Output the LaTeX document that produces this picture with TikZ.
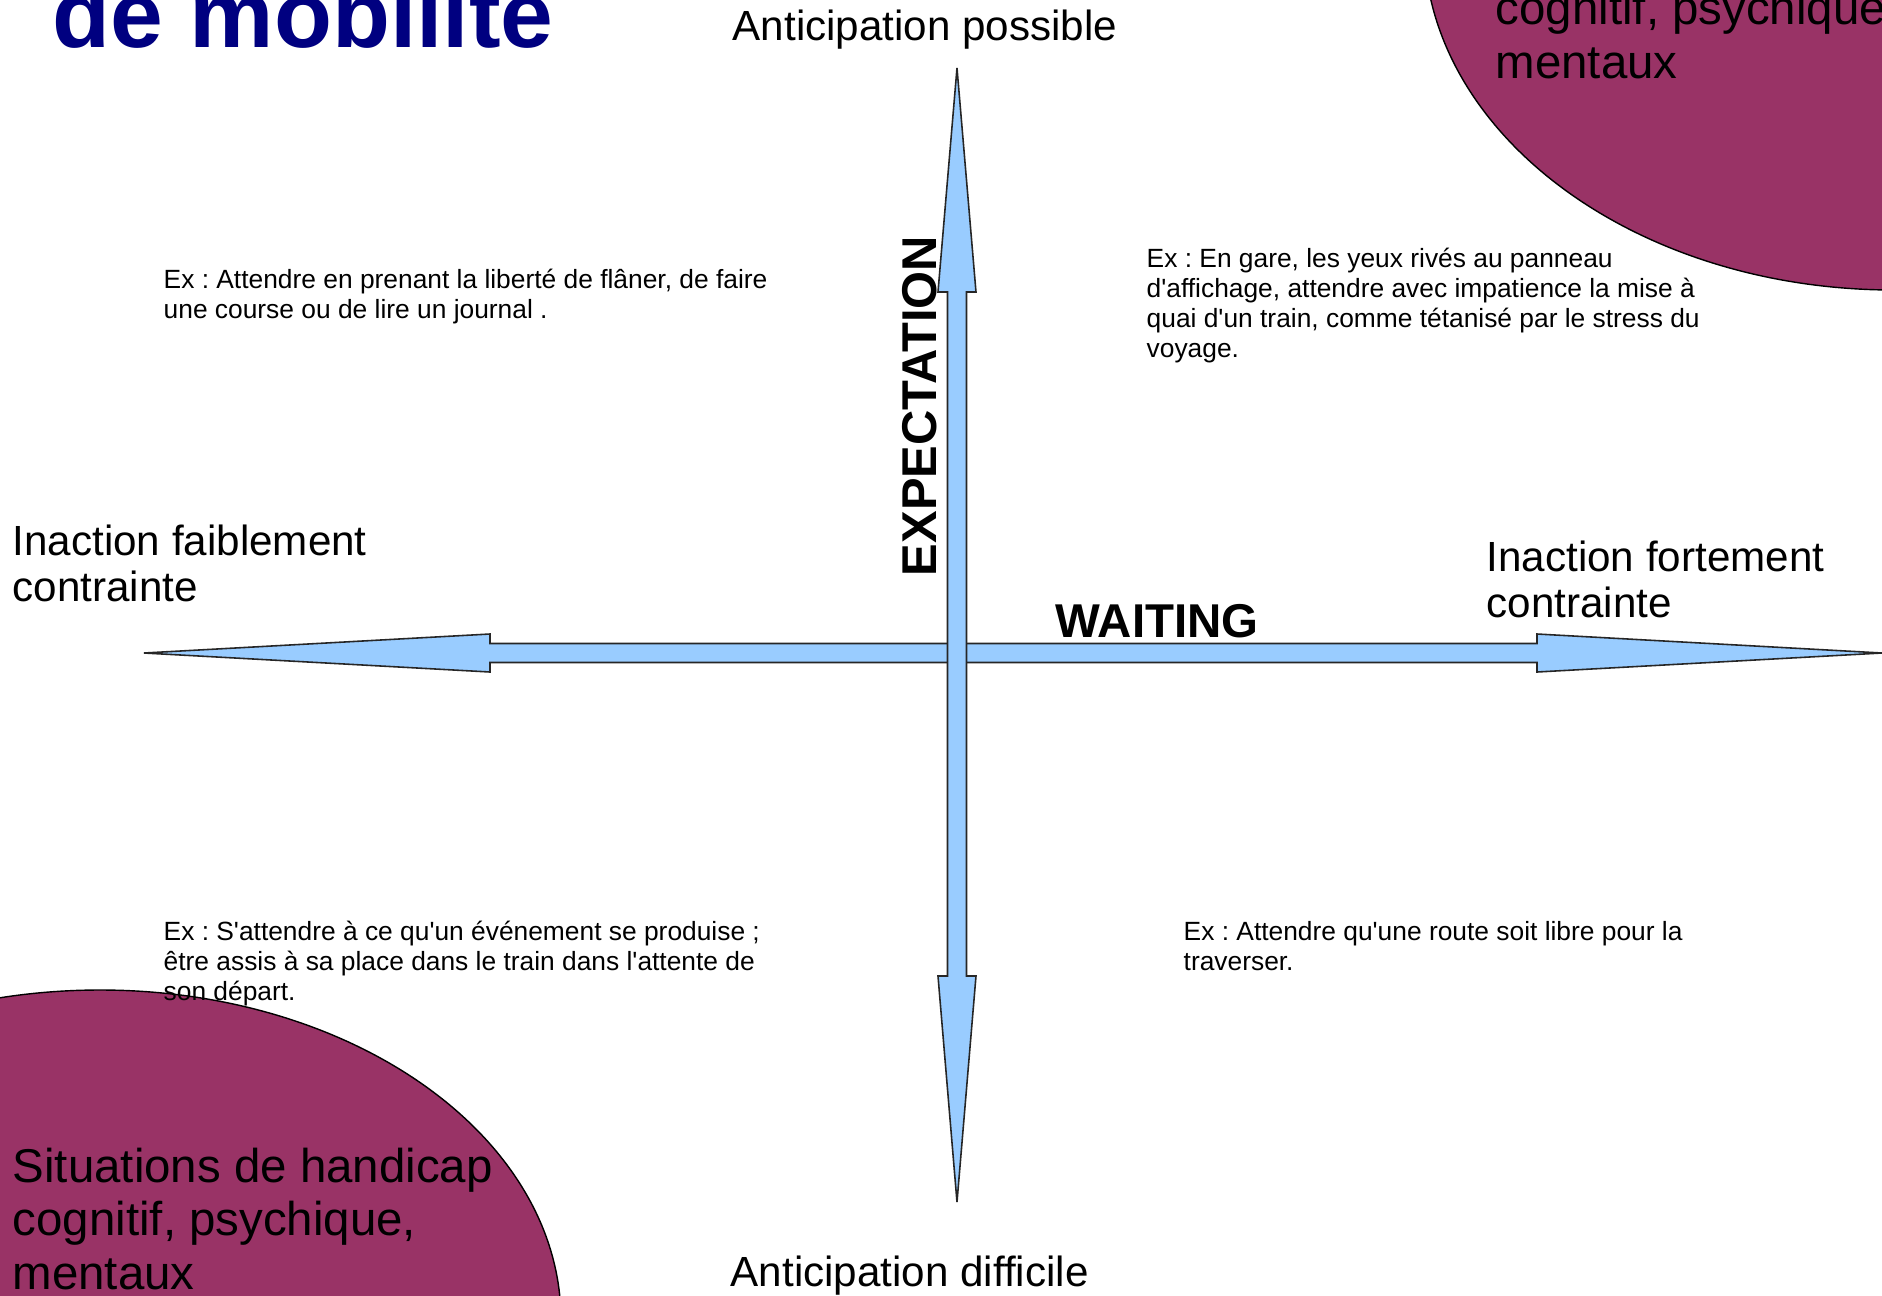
\documentclass[tikz,border=0pt]{standalone}
\usepackage{fontspec}
\setmainfont{Liberation Sans}
\usepackage{tikz}
\usetikzlibrary{positioning, calc}

\definecolor{axisblue}{RGB}{153,204,255}
\definecolor{zonepurple}{RGB}{153,51,102}
\definecolor{titlenavy}{RGB}{0,0,128}

% straight apostrophe, as typed on the slide
\newcommand{\ap}{\textquotesingle}
\frenchspacing

\begin{document}
\begin{tikzpicture}[
    axis/.style={fill=axisblue, draw=black!85, line width=0.45pt, line join=miter},
    zone/.style={fill=zonepurple, draw=black, line width=0.4pt},
    zonetext/.style={anchor=base west, align=left, inner sep=0pt, font=\fontsize{13.5}{15.1}\selectfont},
    pole/.style={anchor=base west, align=left, inner sep=0pt, font=\fontsize{12}{12.9}\selectfont},
    axislabel/.style={inner sep=0pt, font=\fontsize{13.5}{15}\selectfont\bfseries},
    example/.style={anchor=base west, align=left, inner sep=0pt, font=\fontsize{7.5}{8.5}\selectfont}
]

    % Frame of the slide
    \useasboundingbox (-9.57,-6.42) rectangle (9.25,6.53);
    \clip (-9.57,-6.42) rectangle (9.25,6.53);
    \fill[white] (-9.57,-6.42) rectangle (9.25,6.53);

    % Handicap zones in the corners
    \draw[zone] (9.37,7.13) ellipse [x radius=4.70, y radius=3.50];
    \draw[zone] (-8.57,-6.67) ellipse [x radius=4.61, y radius=3.30];

    % (multi-line nodes sit on the baseline of their last line)
    \node (zoneNE) at (5.38,5.75) [zonetext] {cognitif, psychique,\\mentaux};
    \node (zoneSW) at (-9.45,-6.36) [zonetext] {Situations de handicap\\cognitif, psychique,\\mentaux};

    % Title, cut by the top edge
    \node (titre) at (-9.05,6.06) [anchor=base west, inner sep=0pt, text=titlenavy, font=\fontsize{27}{32}\selectfont\bfseries] {de mobilité};

    % Horizontal axis: WAITING
    \coordinate (o) at (0,0);
    \draw[axis] (-8.13,0) -- (-4.67,0.19) -- (-4.67,0.095) -- (5.80,0.095) -- (5.80,0.19)
        -- (9.25,0) -- (5.80,-0.19) -- (5.80,-0.095) -- (-4.67,-0.095) -- (-4.67,-0.19) -- cycle;

    % Vertical axis: EXPECTATION
    \draw[axis] (0,5.85) -- (0.19,3.61) -- (0.095,3.61) -- (0.095,-3.23) -- (0.19,-3.23)
        -- (0,-5.49) -- (-0.19,-3.23) -- (-0.095,-3.23) -- (-0.095,3.61) -- (-0.19,3.61) -- cycle;

    % Axis names
    \node (waiting) at (0.98,0.16) [axislabel, anchor=base west] {WAITING};
    \node (expect) at (-0.20,2.47) [axislabel, anchor=base, rotate=90, font=\fontsize{13.9}{15}\selectfont\bfseries] {EXPECTATION};

    % Ends of the axes
    \node (possible) at (-2.25,6.13) [pole] {Anticipation possible};
    \node (difficile) at (-2.27,-6.33) [pole] {Anticipation difficile};
    \node (faible) at (-9.45,0.52) [pole] {Inaction faiblement\\contrainte};
    \node (forte) at (5.29,0.36) [pole] {Inaction fortement\\contrainte};

    % Examples in each quadrant
    \node (flaner) at (-7.94,3.35) [example] {Ex : Attendre en prenant la liberté de flâner, de faire\\une course ou de lire un journal .};
    \node (gare) at (1.89,2.96) [example] {Ex : En gare, les yeux rivés au panneau\\d\ap affichage, attendre avec impatience la mise à\\quai d\ap un train, comme tétanisé par le stress du\\voyage.};
    \node (depart) at (-7.94,-3.47) [example] {Ex : S\ap attendre à ce qu\ap un événement se produise ;\\être assis à sa place dans le train dans l\ap attente de\\son départ.};
    \node (route) at (2.26,-3.17) [example] {Ex : Attendre qu\ap une route soit libre pour la\\traverser.};

\end{tikzpicture}
\end{document}
